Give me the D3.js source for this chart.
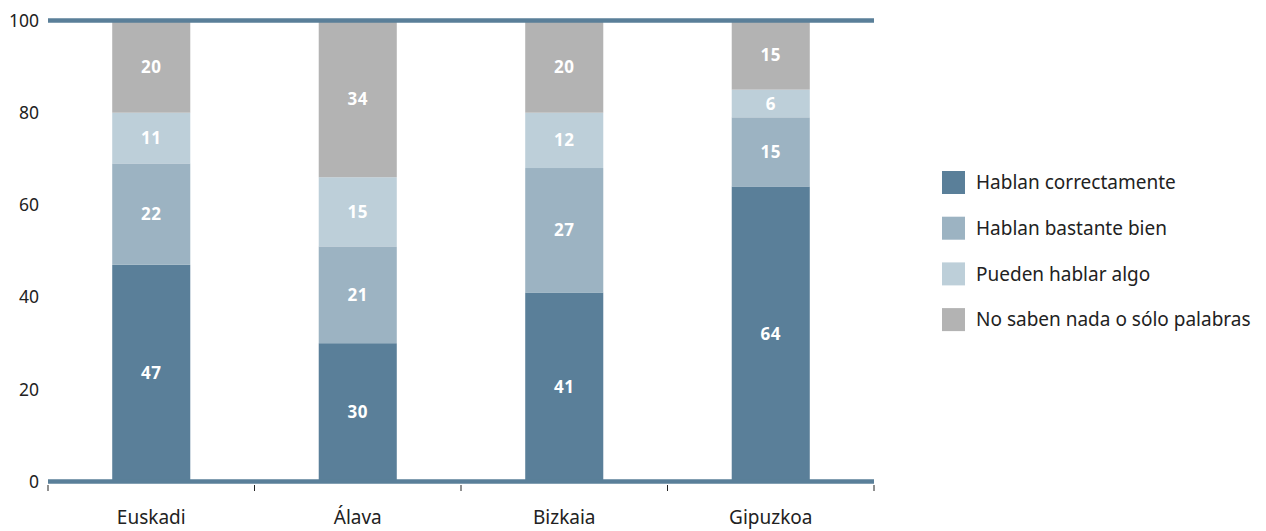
<!DOCTYPE html>
<html><head><meta charset="utf-8">
<script src="https://cdn.jsdelivr.net/npm/d3@7"></script>
<style>body{margin:0;background:#fff}text{font-family:"Noto Sans",sans-serif}</style>
</head><body><svg id="c" width="1266" height="531"></svg>
<script>
const categories = ["Euskadi","Álava","Bizkaia","Gipuzkoa"];
const seriesNames = ["Hablan correctamente","Hablan bastante bien","Pueden hablar algo","No saben nada o sólo palabras"];
const correctamente = [47,30,41,64];
const bastanteBien = [22,21,27,15];
const algo = [11,15,12,6];
const nada = [20,34,20,15];
const yTicks = [0,20,40,60,80,100];
const colors = ["#5a7f99","#9cb3c2","#bdcfd9","#b3b3b3"];

const svg = d3.select("#c");
const x = d3.scaleBand().domain(categories).range([48,874]).paddingInner(0.622).paddingOuter(0.311);
const y = d3.scaleLinear().domain([0,100]).range([481.5,20.5]);
const rows = categories.map((c,i)=>({cat:c, v:[correctamente[i],bastanteBien[i],algo[i],nada[i]]}));
const stack = d3.stack().keys([0,1,2,3]).value((d,k)=>d.v[k]);
const series = stack(rows);

const g = svg.append("g");
series.forEach((s,k)=>{
  g.selectAll(null).data(s).enter().append("rect")
    .attr("x",d=>x(d.data.cat)).attr("width",x.bandwidth())
    .attr("y",d=>y(d[1])).attr("height",d=>y(d[0])-y(d[1]))
    .attr("fill",colors[k]);
  g.selectAll(null).data(s).enter().append("text")
    .attr("x",d=>x(d.data.cat)+x.bandwidth()/2)
    .attr("y",d=>(y(d[0])+y(d[1]))/2).attr("dy","0.36em")
    .attr("text-anchor","middle").attr("fill","#fff")
    .attr("font-weight","bold").attr("font-size",17).attr("letter-spacing",0.5)
    .text(d=>d.data.v[k]);
});
[0,100].forEach(v=>{
  svg.append("line").attr("x1",48).attr("x2",874).attr("y1",y(v)).attr("y2",y(v))
    .attr("stroke","#5a7f99").attr("stroke-width",4.5);
});
svg.selectAll(null).data(yTicks).enter().append("text")
  .attr("x",39).attr("y",d=>y(d)).attr("dy","0.36em").attr("text-anchor","end")
  .attr("font-size",17.5).attr("fill","#222").text(d=>d);
const tickX = [48].concat(categories.map(c=>x(c)+x.bandwidth()/2+x.step()/2));
svg.selectAll(null).data(tickX).enter().append("line")
  .attr("x1",d=>d).attr("x2",d=>d).attr("y1",485).attr("y2",491)
  .attr("stroke","#222").attr("stroke-width",1);
svg.selectAll(null).data(categories).enter().append("text")
  .attr("x",d=>x(d)+x.bandwidth()/2).attr("y",524).attr("text-anchor","middle")
  .attr("font-size",19).attr("fill","#222").text(d=>d);
const lg = svg.append("g");
seriesNames.forEach((n,i)=>{
  lg.append("rect").attr("x",942).attr("y",171+i*45.7).attr("width",23).attr("height",23).attr("fill",colors[i]);
  lg.append("text").attr("x",976).attr("y",182.5+i*45.7).attr("dy","0.36em")
    .attr("font-size",19).attr("fill","#222").text(n);
});
</script></body></html>
